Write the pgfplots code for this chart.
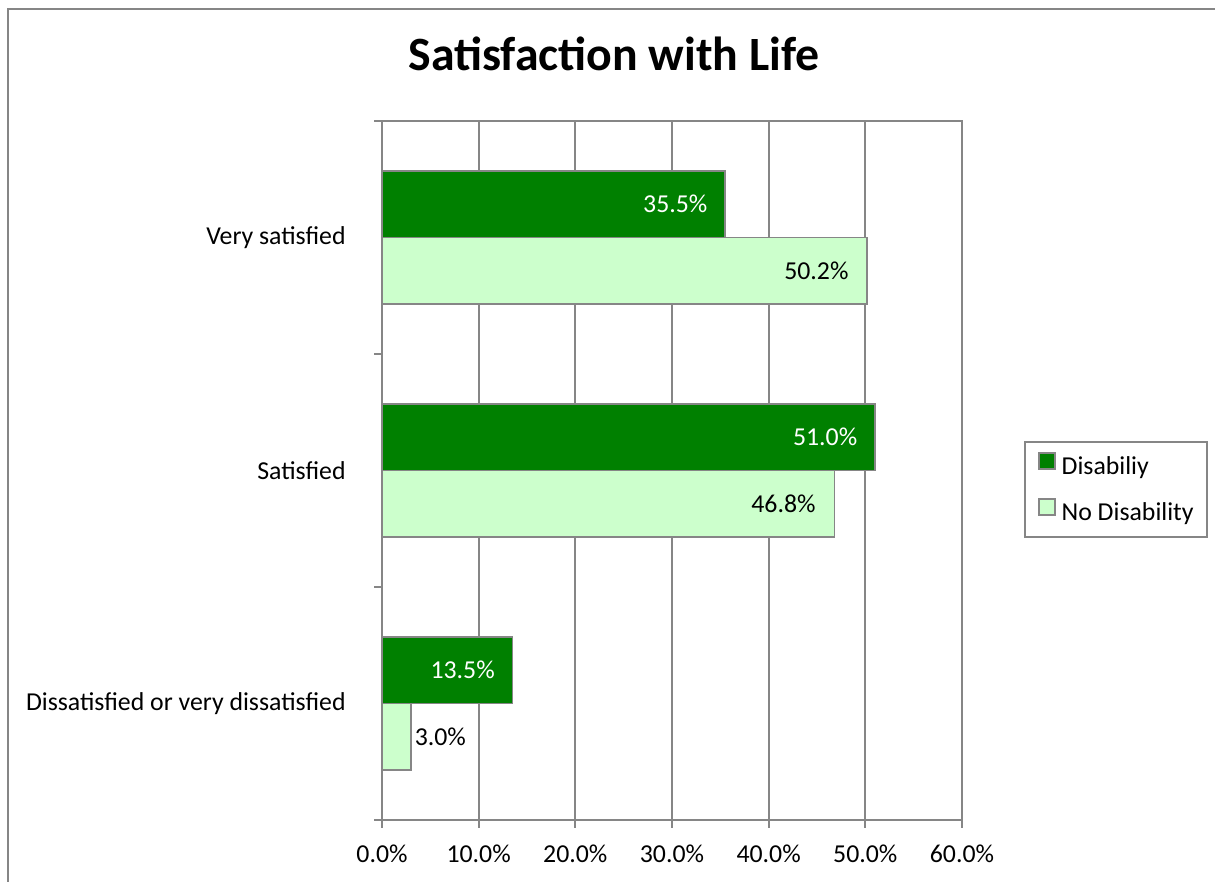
\documentclass[border=0pt]{standalone}
\usepackage{fontspec}
\setmainfont{Carlito}
\usepackage{pgfplots}
\pgfplotsset{compat=1.18}
\definecolor{axgray}{RGB}{134,134,134}
\definecolor{dkgreen}{RGB}{0,128,0}
\definecolor{ltgreen}{RGB}{204,255,204}
\newcommand{\lblfont}{\fontsize{12.9}{15.5}\selectfont}
\begin{document}
\begin{tikzpicture}
\useasboundingbox (0,0) rectangle (607.5pt,441pt);
\fill[white] (0,0) rectangle (607.5pt,441pt);
% chart frame (cropped on the right and bottom)
\draw[axgray, line width=1.1pt] (4pt,-5pt) -- (4pt,436.5pt) -- (615pt,436.5pt);
\node[anchor=base, font=\fontsize{23.9}{28}\selectfont\bfseries] at (307pt,405.5pt) {Satisfaction with Life};
\begin{axis}[
  at={(191pt,31pt)}, anchor=south west,
  scale only axis, width=290pt, height=349.5pt,
  xmin=0, xmax=60, ymin=-0.5, ymax=2.5,
  axis line style={axgray, line width=1pt},
  every tick/.style={axgray, line width=1pt},
  tick align=outside, major tick length=4pt,
  xtick={0,10,...,60},
  xticklabels={0.0\%,10.0\%,20.0\%,30.0\%,40.0\%,50.0\%,60.0\%},
  xtick pos=bottom, ytick pos=left,
  xmajorgrids, major grid style={axgray, line width=1pt},
  ytick={-0.5,0.5,1.5,2.5}, yticklabels={},
  extra y ticks={0,1,2},
  extra y tick labels={Dissatisfied or very dissatisfied,Satisfied,Very satisfied},
  extra y tick style={major tick length=0pt, tick style={draw=none}},
  tick label style={font=\lblfont},
  xticklabel style={inner sep=0pt, anchor=north, yshift=-8.5pt},
  yticklabel style={inner sep=0pt, anchor=east, xshift=-18pt},
  legend style={at={(1.107,0.542)}, anchor=north west, draw=axgray, line width=1pt,
    font=\lblfont, inner xsep=6.5pt, inner ysep=5pt, row sep=8.5pt,
    nodes={inner sep=0pt, text height=9pt, text depth=3pt}},
  legend cell align=left,
]
\addplot[xbar, fill=dkgreen, draw=axgray, line width=0.8pt, bar width=33.25pt, bar shift=16.6pt,
  nodes near coords={\pgfmathprintnumber[fixed,fixed zerofill,precision=1,assume math mode=true]{\pgfplotspointmeta}\%},
  nodes near coords style={anchor=east, inner sep=0pt, xshift=-8.5pt, yshift=16.6pt, text=white, font=\lblfont},
  legend image code/.code={\draw[fill=dkgreen, draw=axgray, line width=0.8pt] (0pt,0pt) rectangle (8pt,8pt); \path (11pt,0pt);}]
  coordinates {(13.5,0) (51.0,1) (35.5,2)};
\addlegendentry{Disabiliy}
\addplot[xbar, fill=ltgreen, draw=axgray, line width=0.8pt, bar width=33.25pt, bar shift=-16.6pt,
  nodes near coords={\pgfmathprintnumber[fixed,fixed zerofill,precision=1,assume math mode=true]{\pgfplotspointmeta}\%},
  nodes near coords style={anchor=east, inner sep=0pt, xshift=-9pt, yshift=-16.6pt, text=black, font=\lblfont},
  legend image code/.code={\draw[fill=ltgreen, draw=axgray, line width=0.8pt] (0pt,0pt) rectangle (8pt,8pt); \path (11pt,0pt);}]
  coordinates {(46.8,1) (50.2,2)};
\addlegendentry{No Disability}
\addplot[forget plot, xbar, fill=ltgreen, draw=axgray, line width=0.8pt, bar width=33.25pt, bar shift=-16.6pt,
  nodes near coords={\pgfmathprintnumber[fixed,fixed zerofill,precision=1,assume math mode=true]{\pgfplotspointmeta}\%},
  nodes near coords style={anchor=west, inner sep=0pt, xshift=1.5pt, yshift=-16.6pt, text=black, font=\lblfont}]
  coordinates {(3.0,0)};
\end{axis}
\end{tikzpicture}
\end{document}
